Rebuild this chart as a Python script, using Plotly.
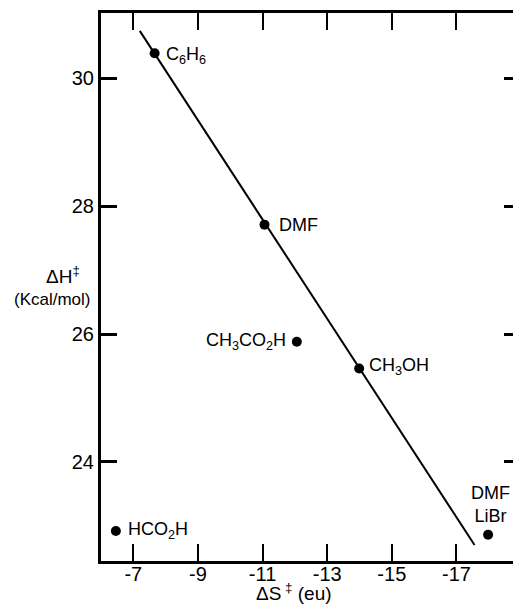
import plotly.graph_objects as go

# Data
solvents = ["C<sub>6</sub>H<sub>6</sub>", "DMF", "CH<sub>3</sub>CO<sub>2</sub>H",
            "CH<sub>3</sub>OH", "HCO<sub>2</sub>H", "DMF<br>LiBr"]
dS = [-7.66, -11.06, -12.06, -13.99, -6.46, -17.98]
dH = [30.39, 27.71, 25.88, 25.46, 22.92, 22.86]

fit_x = [-7.20, -17.56]
fit_y = [30.74, 22.70]

x_tickvals = [-7, -9, -11, -13, -15, -17]
x_ticktext = ["-7", "-9", "-11", "-13", "-15", "-17"]
y_tickvals = [24, 26, 28, 30]
y_ticktext = ["24", "26", "28", "30"]

FONT = "Liberation Sans, Arial, sans-serif"

fig = go.Figure()
fig.add_trace(go.Scatter(x=fit_x, y=fit_y, mode="lines",
                         line=dict(color="black", width=2), showlegend=False))
fig.add_trace(go.Scatter(x=dS, y=dH, mode="markers",
                         marker=dict(color="black", size=10), showlegend=False))
# invisible trace to activate right-hand tick axis
fig.add_trace(go.Scatter(x=[None], y=[None], yaxis="y2", showlegend=False,
                         hoverinfo="skip"))

# label placement (style)
label_style = [
    dict(xanchor="left", xshift=9, yshift=-2),
    dict(xanchor="left", xshift=12, yshift=0),
    dict(xanchor="right", xshift=-9, yshift=0),
    dict(xanchor="left", xshift=8, yshift=2),
    dict(xanchor="left", xshift=10, yshift=0),
    dict(xanchor="center", xshift=2, yshift=30),
]
for name, x, y, st in zip(solvents, dS, dH, label_style):
    fig.add_annotation(x=x, y=y, text=name, showarrow=False,
                       font=dict(size=18, color="black", family=FONT),
                       yanchor="middle", **st)

fig.add_annotation(xref="paper", yref="paper", x=-0.092, y=0.522,
                   xanchor="center", yanchor="middle",
                   text="ΔH<sup>‡</sup>", showarrow=False,
                   font=dict(size=19, color="black", family=FONT))
fig.add_annotation(xref="paper", yref="paper", x=-0.118, y=0.478,
                   xanchor="center", yanchor="middle",
                   text="(Kcal/mol)", showarrow=False,
                   font=dict(size=17, color="black", family=FONT))
fig.add_annotation(xref="paper", yref="paper", x=0.468, y=-0.083,
                   xanchor="center", yanchor="bottom",
                   text="ΔS<sup> ‡</sup> (eu)", showarrow=False,
                   font=dict(size=19, color="black", family=FONT))

fig.update_layout(
    width=513, height=605,
    margin=dict(l=101, r=0, t=13, b=44),
    plot_bgcolor="white", paper_bgcolor="white",
    font=dict(family=FONT, color="black", size=20),
    xaxis=dict(range=[-6.0, -18.75], tickvals=x_tickvals, ticktext=x_ticktext,
               ticks="inside", ticklen=17, tickwidth=2, tickcolor="black",
               showline=True, linewidth=3, linecolor="black", mirror="ticks",
               showgrid=False, zeroline=False, tickfont=dict(size=20),
               ticklabelstandoff=-7),
    yaxis=dict(range=[22.45, 31.02], tickvals=y_tickvals, ticktext=y_ticktext,
               ticks="inside", ticklen=16, tickwidth=3, tickcolor="black",
               showline=True, linewidth=3, linecolor="black",
               showgrid=False, zeroline=False, tickfont=dict(size=20)),
    yaxis2=dict(range=[22.45, 31.02], tickvals=y_tickvals, overlaying="y",
                side="right", anchor="x", ticks="inside", ticklen=9, tickwidth=3,
                tickcolor="black", showline=False, showticklabels=False,
                showgrid=False, zeroline=False),
)

fig.write_html("out.html",
               config={"displayModeBar": False},
               post_script="document.body.style.margin='0';"
                           "document.body.style.overflow='hidden';")
